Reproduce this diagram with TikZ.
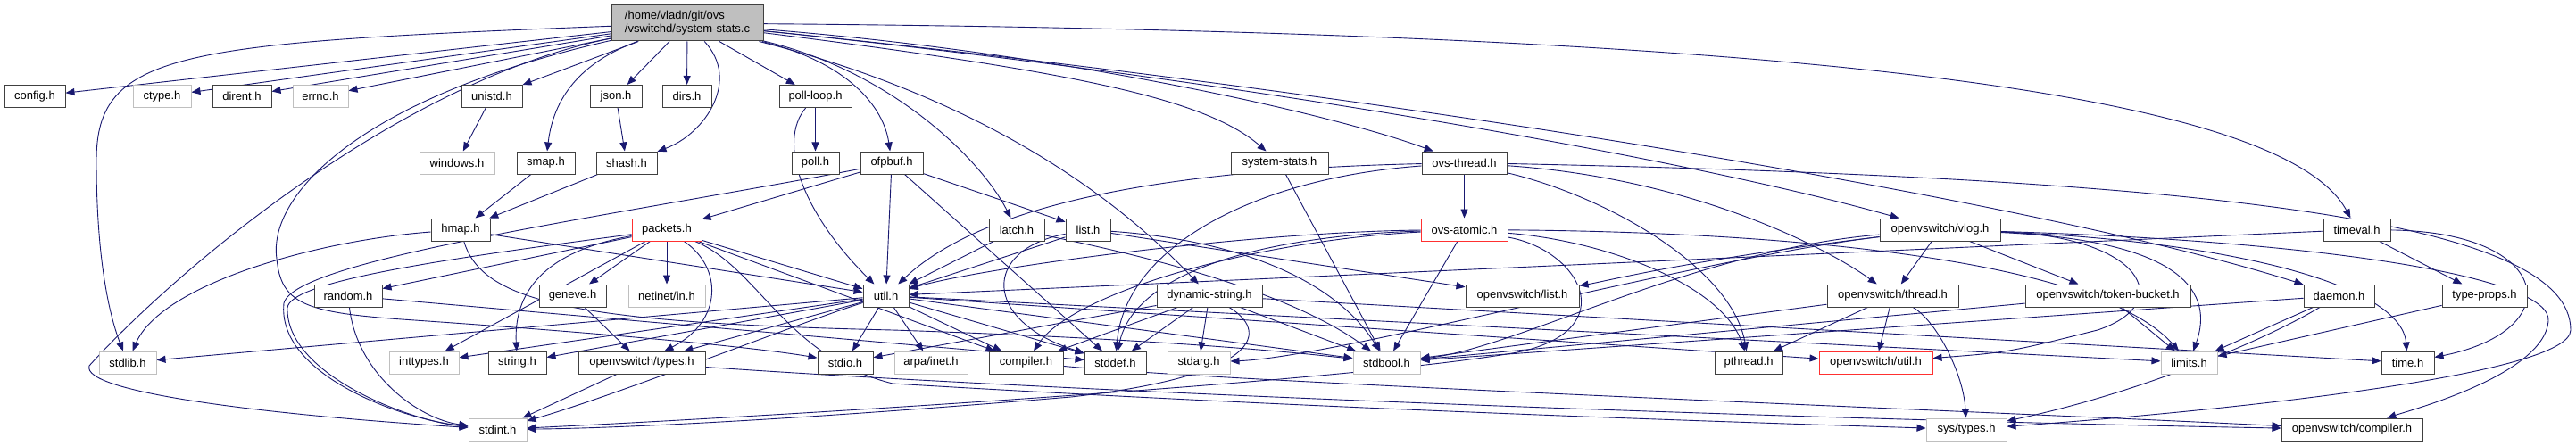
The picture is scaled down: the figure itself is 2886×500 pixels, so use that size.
\documentclass[tikz,border=0pt]{standalone}
\usepackage{fontspec}
\setmainfont{Liberation Sans}
\usetikzlibrary{arrows.meta}
\definecolor{edgec}{HTML}{191970}
\definecolor{nodeb}{HTML}{404040}
\definecolor{nodeg}{HTML}{BFBFBF}
\definecolor{noder}{HTML}{FF3030}
\pgfdeclarelayer{bg}
\pgfsetlayers{bg,main}
\tikzset{
  nb/.style={draw=nodeb, fill=white, line width=1pt, minimum height=25, inner sep=0pt, font=\fontsize{13}{15}\selectfont},
  ng/.style={nb, draw=nodeg},
  nr/.style={nb, draw=noder},
  rootbox/.style={nb, fill=nodeg, minimum height=40, align=left},
  e/.style={draw=edgec, line width=0.9pt, -{Triangle[length=10pt,width=8pt]}},
}
\begin{document}
\begin{tikzpicture}[x=1pt,y=-1pt]
\begin{pgfonlayer}{bg}
\fill[white] (0,0) rectangle (2886,500);
\end{pgfonlayer}
\useasboundingbox (0,0) rectangle (2886,500);
% root
\node[rootbox, minimum width=170] (root) at (770,26) {/home/vladn/git/ovs\\/vswitchd/system-stats.c};
% row 1
\node[nb, minimum width=68] (config) at (39,108) {config.h};
\node[ng, minimum width=65] (ctype) at (181.5,108) {ctype.h};
\node[nb, minimum width=66] (dirent) at (271,108) {dirent.h};
\node[ng, minimum width=62] (errno) at (359,108) {errno.h};
\node[nb, minimum width=68] (unistd) at (551,108) {unistd.h};
\node[nb, minimum width=58] (json) at (690,108) {json.h};
\node[nb, minimum width=55] (dirs) at (769.5,108) {dirs.h};
\node[nb, minimum width=81] (polloop) at (913.5,108) {poll-loop.h};
% row 2
\node[ng, minimum width=84] (windows) at (512,182.5) {windows.h};
\node[nb, minimum width=65] (smap) at (611.5,182.5) {smap.h};
\node[nb, minimum width=68] (shash) at (702,182.5) {shash.h};
\node[nb, minimum width=53] (poll) at (913.5,182.5) {poll.h};
\node[nb, minimum width=70] (ofpbuf) at (999,182.5) {ofpbuf.h};
\node[nb, minimum width=109] (sysstats) at (1433.5,182.5) {system-stats.h};
\node[nb, minimum width=95] (ovsthread) at (1640.5,182.5) {ovs-thread.h};
% row 3
\node[nb, minimum width=66] (hmap) at (516,257.5) {hmap.h};
\node[nr, minimum width=78] (packets) at (747,257.5) {packets.h};
\node[nb, minimum width=62] (latch) at (1139,257.5) {latch.h};
\node[nb, minimum width=50] (list) at (1219,257.5) {list.h};
\node[nr, minimum width=97] (ovsatomic) at (1640.5,257.5) {ovs-atomic.h};
\node[nb, minimum width=135] (vlog) at (2173.5,257.5) {openvswitch/vlog.h};
\node[nb, minimum width=75] (timeval) at (2640.5,257.5) {timeval.h};
% row 4
\node[nb, minimum width=76] (random) at (390,331.5) {random.h};
\node[nb, minimum width=75] (geneve) at (641.5,331.5) {geneve.h};
\node[ng, minimum width=86] (netinet) at (747,331.5) {netinet/in.h};
\node[nb, minimum width=51] (util) at (992.5,331.5) {util.h};
\node[nb, minimum width=118] (dynstr) at (1355,331.5) {dynamic-string.h};
\node[nb, minimum width=127] (ovslist) at (1705.5,331.5) {openvswitch/list.h};
\node[nb, minimum width=147] (ovsthr) at (2120.5,331.5) {openvswitch/thread.h};
\node[nb, minimum width=185] (tokenb) at (2361.5,331.5) {openvswitch/token-bucket.h};
\node[nb, minimum width=79] (daemon) at (2620.5,331.5) {daemon.h};
\node[nb, minimum width=95] (typeprops) at (2783.5,331.5) {type-props.h};
% row 5
\node[ng, minimum width=64] (stdlib) at (143,406.5) {stdlib.h};
\node[ng, minimum width=78] (inttypes) at (475,406.5) {inttypes.h};
\node[nb, minimum width=65] (string) at (579.5,406.5) {string.h};
\node[nb, minimum width=142] (ovstypes) at (719,406.5) {openvswitch/types.h};
\node[nb, minimum width=62] (stdio) at (947,406.5) {stdio.h};
\node[ng, minimum width=82] (arpainet) at (1043,406.5) {arpa/inet.h};
\node[nb, minimum width=83] (compiler) at (1149.5,406.5) {compiler.h};
\node[nb, minimum width=69] (stddef) at (1249.5,406.5) {stddef.h};
\node[ng, minimum width=70] (stdarg) at (1343,406.5) {stdarg.h};
\node[ng, minimum width=75] (stdbool) at (1553.5,406.5) {stdbool.h};
\node[nb, minimum width=76] (pthread) at (1959,406.5) {pthread.h};
\node[nr, minimum width=127] (ovsutil) at (2101.5,406.5) {openvswitch/util.h};
\node[ng, minimum width=63] (limits) at (2452.5,406.5) {limits.h};
\node[nb, minimum width=59] (time) at (2697.5,406.5) {time.h};
% row 6
\node[ng, minimum width=65] (stdint) at (557.5,481.5) {stdint.h};
\node[ng, minimum width=90] (systypes) at (2203,481.5) {sys/types.h};
\node[nb, minimum width=158] (ovscompiler) at (2635,481.5) {openvswitch/compiler.h};

\begin{pgfonlayer}{bg}
% root
\draw[e] (root) -- (config);
\draw[e] (root) -- (ctype);
\draw[e] (root) -- (dirent);
\draw[e] (root) -- (errno);
\draw[e] (root) .. controls (200,48) and (108,58) .. (108,180) .. controls (108,300) and (125,360) .. (stdlib);
\draw[e] (root) .. controls (450,90) and (200,300) .. (100,410) .. controls (90,440) and (300,465) .. (stdint);
\draw[e] (root) .. controls (400,110) and (300,220) .. (310,290) .. controls (315,340) and (340,350) .. (450,358) .. controls (700,375) and (850,390) .. (stdio);
\draw[e] (root) -- (unistd);
\draw[e] (root) .. controls (650,70) and (620,110) .. (smap);
\draw[e] (root) -- (json);
\draw[e] (root) -- (dirs);
\draw[e] (root) .. controls (830,90) and (790,150) .. (shash);
\draw[e] (root) -- (polloop);
\draw[e] (root) .. controls (950,70) and (990,120) .. (ofpbuf);
\draw[e] (root) .. controls (1000,80) and (1100,180) .. (latch);
\draw[e] (root) .. controls (1100,110) and (1250,220) .. (dynstr);
\draw[e] (root) .. controls (1200,80) and (1350,110) .. (sysstats);
\draw[e] (root) .. controls (1200,60) and (1500,130) .. (ovsthread);
\draw[e] (root) .. controls (1400,90) and (1900,180) .. (vlog);
\draw[e] (root) .. controls (1600,110) and (2300,230) .. (daemon);
\draw[e] (root) .. controls (1900,35) and (2550,90) .. (timeval);
% second level
\draw[e] (sysstats) -- (stdbool);
\draw[e] (unistd) -- (windows);
\draw[e] (json) -- (shash);
\draw[e] (shash) -- (hmap);
\draw[e] (smap) -- (hmap);
\draw[e] (polloop) -- (poll);
\draw[e] (polloop) .. controls (870,160) and (900,240) .. (util);
\draw[e] (hmap) .. controls (350,270) and (180,320) .. (stdlib);
\draw[e] (hmap) -- (util);
\draw[e] (hmap) .. controls (540,340) and (650,362) .. (1000,370) .. controls (1300,380) and (1450,395) .. (stdbool);
\draw[e] (ofpbuf) -- (packets);
\draw[e] (ofpbuf) -- (util);
\draw[e] (ofpbuf) -- (stddef);
\draw[e] (ofpbuf) -- (list);
\draw[e] (ofpbuf) .. controls (700,240) and (330,290) .. (318,340) .. controls (310,420) and (450,470) .. (stdint);
% packets
\draw[e] (packets) -- (geneve);
\draw[e] (packets) -- (netinet);
\draw[e] (packets) .. controls (810,300) and (810,360) .. (ovstypes);
\draw[e] (packets) -- (util);
\draw[e] (packets) .. controls (620,280) and (575,320) .. (string);
\draw[e] (packets) -- (inttypes);
\draw[e] (packets) -- (random);
\draw[e] (packets) .. controls (500,290) and (325,315) .. (322,345) .. controls (320,420) and (460,472) .. (stdint);
\draw[e] (packets) -- (compiler);
\draw[e] (packets) .. controls (850,300) and (880,400) .. (1000,430) .. controls (1500,460) and (2000,475) .. (systypes);
\draw[e] (geneve) -- (ovstypes);
\draw[e] (random) .. controls (400,420) and (470,470) .. (stdint);
\draw[e] (random) -- (stddef);
% util
\draw[e] (util) -- (stdlib);
\draw[e] (util) -- (inttypes);
\draw[e] (util) -- (string);
\draw[e] (util) -- (ovstypes);
\draw[e] (util) -- (stdio);
\draw[e] (util) -- (arpainet);
\draw[e] (util) -- (compiler);
\draw[e] (util) -- (stddef);
\draw[e] (util) -- (stdbool);
\draw[e] (util) -- (limits);
\draw[e] (util) -- (ovsutil);
\draw[e] (util) .. controls (900,360) and (700,440) .. (stdint);
% latch, list
\draw[e] (latch) -- (util);
\draw[e] (latch) .. controls (1300,290) and (1450,330) .. (stdbool);
\draw[e] (list) -- (util);
\draw[e] (list) -- (ovslist);
\draw[e] (list) .. controls (1100,280) and (1100,360) .. (stddef);
\draw[e] (list) .. controls (1400,270) and (1500,320) .. (stdbool);
% dynamic-string
\draw[e] (dynstr) -- (stdarg);
\draw[e] (dynstr) -- (stddef);
\draw[e] (dynstr) -- (compiler);
\draw[e] (dynstr) -- (stdio);
\draw[e] (dynstr) -- (stdbool);
\draw[e] (dynstr) -- (time);
\draw[e] (dynstr) .. controls (1420,370) and (1420,420) .. (1200,445) .. controls (900,470) and (700,480) .. (stdint);
% ovs-thread
\draw[e] (ovsthread) -- (ovsatomic);
\draw[e] (ovsthread) .. controls (1300,190) and (1100,230) .. (util);
\draw[e] (ovsthread) .. controls (1800,220) and (1940,300) .. (pthread);
\draw[e] (ovsthread) .. controls (1400,200) and (1260,280) .. (stddef);
\draw[e] (ovsthread) .. controls (1900,200) and (2050,280) .. (ovsthr);
\draw[e] (ovsthread) .. controls (2500,200) and (2880,250) .. (2880,370) .. controls (2880,420) and (2500,460) .. (systypes);
% ovs-atomic
\draw[e] (ovsatomic) .. controls (1400,260) and (1100,300) .. (util);
\draw[e] (ovsatomic) -- (stdbool);
\draw[e] (ovsatomic) .. controls (1400,265) and (1270,310) .. (stddef);
\draw[e] (ovsatomic) .. controls (1400,270) and (1200,330) .. (compiler);
\draw[e] (ovsatomic) .. controls (1800,270) and (1930,320) .. (pthread);
\draw[e] (ovsatomic) .. controls (2000,260) and (2350,290) .. (limits);
\draw[e] (ovsatomic) .. controls (1770,280) and (1820,370) .. (1700,395) .. controls (1500,430) and (800,470) .. (stdint);
% vlog
\draw[e] (vlog) -- (ovsthr);
\draw[e] (vlog) -- (tokenb);
\draw[e] (vlog) .. controls (1900,290) and (1800,315) .. (ovslist);
\draw[e] (vlog) .. controls (1900,280) and (1700,390) .. (stdbool);
\draw[e] (vlog) .. controls (1900,290) and (1500,400) .. (stdarg);
\draw[e] (vlog) .. controls (2450,270) and (2480,330) .. (limits);
\draw[e] (vlog) .. controls (2400,265) and (2440,340) .. (2350,370) .. controls (2250,395) .. (ovsutil);
\draw[e] (vlog) .. controls (2500,270) and (2690,320) .. (time);
\draw[e] (vlog) .. controls (2600,270) and (2860,310) .. (2855,360) .. controls (2850,420) and (2700,460) .. (ovscompiler);
% openvswitch/thread
\draw[e] (ovsthr) -- (pthread);
\draw[e] (ovsthr) -- (ovsutil);
\draw[e] (ovsthr) .. controls (2170,360) and (2200,420) .. (systypes);
\draw[e] (ovsthr) -- (stdbool);
\draw[e] (tokenb) -- (limits);
\draw[e] (tokenb) -- (stdbool);
% timeval, daemon, type-props
\draw[e] (timeval) -- (typeprops);
\draw[e] (timeval) .. controls (2860,260) and (2880,370) .. (time);
\draw[e] (timeval) -- (util);
\draw[e] (daemon) -- (limits);
\draw[e] (daemon) -- (stdbool);
\draw[e] (daemon) .. controls (2540,380) and (2400,440) .. (systypes);
\draw[e] (typeprops) -- (limits);
% bottom
\draw[e] (ovstypes) -- (stdint);
\draw[e] (ovstypes) .. controls (1200,440) and (2000,470) .. (ovscompiler);
\draw[e] (compiler) .. controls (1400,430) and (2200,460) .. (ovscompiler);
\end{pgfonlayer}
\end{tikzpicture}
\end{document}
